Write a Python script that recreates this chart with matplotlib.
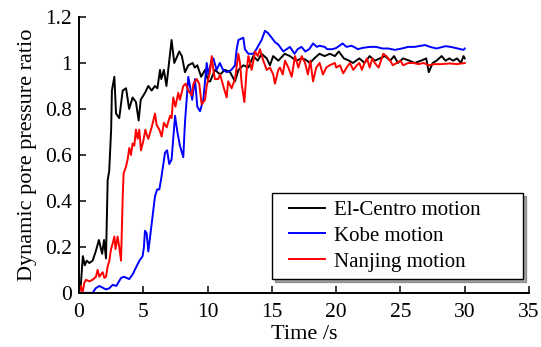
import numpy as np
import matplotlib.pyplot as plt
from matplotlib.lines import Line2D
from matplotlib.legend_handler import HandlerLine2D

plt.rcParams['font.family'] = ['Liberation Serif', 'DejaVu Serif']
plt.rcParams['mathtext.fontset'] = 'stix'

## DATA

# El-Centro motion
t_elc = [0, 0.15, 0.3, 0.45, 0.6, 0.8, 1.06, 1.3, 1.55, 1.8, 1.95, 2.1, 2.23, 2.35, 2.5, 2.56,
         2.75, 2.88, 3.13, 3.4, 3.66, 3.9, 4.17, 4.43, 4.64, 4.8, 5.13, 5.39, 5.65, 5.9, 6.1,
         6.3, 6.4, 6.6, 6.8, 7.2, 7.41, 7.8, 8.0, 8.24, 8.5, 8.84, 9.0, 9.2, 9.5, 9.8, 10.06,
         10.2, 10.57, 10.97, 11.35, 11.75, 12.13, 12.4, 12.78, 13.17, 13.55, 13.9, 14.2, 14.6,
         14.85, 15.1, 15.5, 16.0, 16.4, 16.9, 17.3, 17.6, 17.96, 18.3, 18.7, 19.1, 19.5, 19.9,
         20.2, 20.6, 21.0, 21.3, 21.8, 22.2, 22.6, 23.0, 23.4, 23.8, 24.2, 24.5, 24.8, 25.2,
         25.7, 26.1, 26.6, 27.0, 27.2, 27.5, 27.8, 28.2, 28.5, 28.8, 29.1, 29.4, 29.7, 29.9, 30.0]
r_elc = [0.0, 0.04, 0.16, 0.12, 0.14, 0.13, 0.14, 0.18, 0.23, 0.17, 0.23, 0.15, 0.49, 0.53, 0.71, 0.88,
         0.94, 0.78, 0.76, 0.88, 0.89, 0.80, 0.85, 0.83, 0.75, 0.84, 0.87, 0.90, 0.88, 0.90, 0.89,
         0.97, 0.93, 0.97, 0.90, 1.10, 1.00, 1.05, 1.03, 0.96, 0.99, 1.00, 0.98, 0.99, 0.94, 0.97, 0.92,
         0.92, 0.97, 0.95, 0.97, 0.96, 0.92, 0.97, 0.99, 0.98, 1.03, 1.01, 1.04, 1.02,
         0.99, 1.03, 1.01, 1.04, 1.03, 1.01, 1.02, 1.015, 1.00, 1.02, 1.04, 1.03, 1.04, 1.03,
         1.05, 1.02, 1.01, 1.00, 1.02, 1.00, 1.03, 1.01, 1.02, 1.03, 1.01, 1.03, 1.00, 1.02,
         1.01, 1.00, 1.01, 1.02, 0.96, 1.00, 1.01, 1.03, 1.01, 1.02, 1.01, 1.02, 1.00, 1.03, 1.02]

# Kobe motion
t_kobe = [0, 0.54, 1.06, 1.3, 1.58, 2.1, 2.36, 2.62, 2.9, 3.27, 3.5, 3.91, 4.17, 4.43, 4.7, 4.95,
          5.05, 5.13, 5.26, 5.39, 5.65, 5.91, 6.08, 6.25, 6.4, 6.69, 6.85, 7.02, 7.2, 7.47, 7.65,
          7.85, 8.11, 8.24, 8.5, 8.63, 8.8, 9.02, 9.2, 9.41, 9.67, 9.93, 10.06, 10.3, 10.45, 10.7,
          10.95, 11.2, 11.5, 11.85, 12.13, 12.26, 12.4, 12.78, 12.9, 13.17, 13.55, 13.8, 14.2,
          14.46, 14.7, 14.98, 15.25, 15.5, 15.89, 16.15, 16.4, 16.76, 17.0, 17.3, 17.6, 17.9,
          18.2, 18.5, 18.7, 19.1, 19.3, 19.7, 20.0, 20.5, 20.8, 21.2, 21.7, 22.0, 22.6, 23.1,
          23.6, 24.05, 24.57, 25.1, 25.6, 26.1, 26.9, 27.3, 27.8, 28.5, 28.9, 29.3, 29.9, 30.0]
r_kobe = [0.0, 0.0, 0.0, 0.02, 0.03, 0.015, 0.02, 0.035, 0.03, 0.065, 0.07, 0.06, 0.08, 0.11, 0.14, 0.16,
          0.20, 0.27, 0.26, 0.18, 0.30, 0.42, 0.45, 0.45, 0.50, 0.61, 0.62, 0.56, 0.58, 0.77, 0.70,
          0.64, 0.59, 0.74, 0.94, 0.90, 0.84, 0.93, 0.81, 0.79, 0.84, 1.00, 0.95, 1.01, 1.02, 0.97,
          1.00, 0.97, 0.96, 0.97, 0.99, 1.06, 1.10, 1.11, 1.06, 1.04, 1.04, 1.06, 1.10,
          1.14, 1.13, 1.11, 1.09, 1.08, 1.05, 1.06, 1.07, 1.04, 1.06, 1.07, 1.05, 1.06,
          1.085, 1.07, 1.075, 1.07, 1.06, 1.06, 1.065, 1.085, 1.07, 1.075, 1.06, 1.065, 1.07, 1.07,
          1.063, 1.063, 1.057, 1.063, 1.07, 1.07, 1.078, 1.07, 1.063, 1.073, 1.07, 1.065, 1.057, 1.063]

# Nanjing motion
t_nj = [0, 0.15, 0.28, 0.41, 0.54, 0.8, 1.06, 1.32, 1.45, 1.58, 1.84, 1.97, 2.1, 2.23, 2.36, 2.49,
        2.62, 2.75, 2.84, 3.0, 3.13, 3.27, 3.4, 3.47, 3.66, 3.78, 3.91, 4.04, 4.17, 4.3, 4.43,
        4.56, 4.69, 4.82, 5.0, 5.16, 5.26, 5.39, 5.65, 5.91, 6.04, 6.25, 6.43, 6.6, 6.82, 7.08,
        7.2, 7.33, 7.5, 7.72, 7.85, 8.11, 8.3, 8.5, 8.76, 8.9, 9.15, 9.35, 9.54, 9.8, 9.93,
        10.18, 10.32, 10.45, 10.57, 10.83, 10.97, 11.22, 11.48, 11.6, 11.87, 12.13, 12.39, 12.52,
        12.65, 12.86, 13.04, 13.17, 13.43, 13.69, 13.9, 14.07, 14.33, 14.6, 14.85, 15.1, 15.24,
        15.5, 15.63, 15.84, 16.02, 16.28, 16.54, 16.8, 17.06, 17.32, 17.58, 17.8, 17.99, 18.2,
        18.45, 18.71, 18.97, 19.23, 19.49, 19.9, 20.0, 20.29, 20.55, 20.81, 21.07, 21.33, 21.6,
        21.8, 22.0, 22.2, 22.4, 22.6, 22.8, 23.0, 23.3, 23.66, 23.9, 24.2, 24.4, 24.7, 25.0,
        25.2, 25.6, 26.0, 26.4, 26.8, 27.2, 27.6, 28.2, 28.8, 29.4, 30.0]
r_nj = [0.0, 0.03, 0.0, 0.043, 0.057, 0.05, 0.057, 0.07, 0.10, 0.07, 0.09, 0.065, 0.07, 0.115, 0.14, 0.19,
        0.215, 0.245, 0.19, 0.245, 0.20, 0.14, 0.42, 0.52, 0.55, 0.58, 0.63, 0.60, 0.65, 0.64, 0.71,
        0.67, 0.71, 0.62, 0.66, 0.71, 0.69, 0.67, 0.72, 0.78, 0.73, 0.71, 0.68, 0.74, 0.72, 0.77,
        0.76, 0.85, 0.81, 0.87, 0.84, 0.90, 0.91, 0.88, 0.86, 0.91, 0.93, 0.91, 0.82, 0.84, 0.90,
        0.96, 1.03, 0.97, 0.93, 0.93, 0.95, 0.90, 0.85, 0.92, 0.89, 0.93, 1.04, 1.00,
        0.91, 0.83, 0.97, 1.03, 0.97, 1.05, 1.03, 1.06, 1.01, 0.97, 0.98, 0.95, 0.91,
        0.97, 0.98, 0.95, 1.01, 0.98, 0.94, 1.03, 0.98, 1.03, 1.00, 0.95, 1.01, 0.92,
        0.98, 1.00, 0.95, 0.98, 0.99, 1.00, 0.98, 0.99, 0.955, 0.98, 1.00, 0.97, 0.99,
        1.00, 0.97, 1.00, 1.02, 0.98, 1.02, 1.00, 0.98, 1.04, 1.03, 1.01, 0.99, 1.00, 1.01,
        0.99, 1.00, 1.00, 0.995, 1.00, 0.99, 0.995, 0.995, 0.998, 0.995, 1.00]

labels = ['El-Centro motion', 'Kobe motion', 'Nanjing motion']
colors = ['black', 'blue', 'red']

## PLOT

fig = plt.figure(figsize=(5.41, 3.47), dpi=100)
ax = fig.add_axes([0.146, 0.156, 0.832, 0.795])

ax.plot(t_elc, r_elc, color=colors[0], lw=1.4, label=labels[0])
ax.plot(t_kobe, r_kobe, color=colors[1], lw=1.4, label=labels[1])
ax.plot(t_nj, r_nj, color=colors[2], lw=1.4, label=labels[2])

ax.set_xlim(0, 35)
ax.set_ylim(0, 1.2)
ax.set_xticks(np.arange(0, 36, 5))
ax.set_yticks([0, 0.2, 0.4, 0.6, 0.8, 1.0, 1.2])
ax.set_yticklabels(['0', '0.2', '0.4', '0.6', '0.8', '1', '1.2'])
ax.spines['top'].set_visible(False)
ax.spines['right'].set_visible(False)
ax.spines['left'].set_linewidth(1.4)
ax.spines['bottom'].set_linewidth(1.4)
ax.tick_params(direction='in', length=5, width=1.1, labelsize=15.5)
ax.tick_params(axis='x', pad=7)
ax.tick_params(axis='y', pad=5)
ax.set_xlabel('Time /s', fontsize=16, labelpad=2.5)
ax.set_ylabel('Dynamic pore pressure ratio', fontsize=16, labelpad=6)

# legend box is wider than its text in the original, so stretch it;
# xpad pushes the short handle lines away from the left edge
leg = ax.legend(loc='lower left', bbox_to_anchor=(0.429, 0.051, 0.558, 0.304), mode='expand',
                borderaxespad=0, fancybox=False, shadow=True, edgecolor='black', fontsize=15,
                handlelength=2.18, handletextpad=0.45, labelspacing=0.3, borderpad=0.35,
                handler_map={Line2D: HandlerLine2D(xpad=0.48)})
leg.get_frame().set_linewidth(1.0)

fig.savefig('out.png', dpi=100)
